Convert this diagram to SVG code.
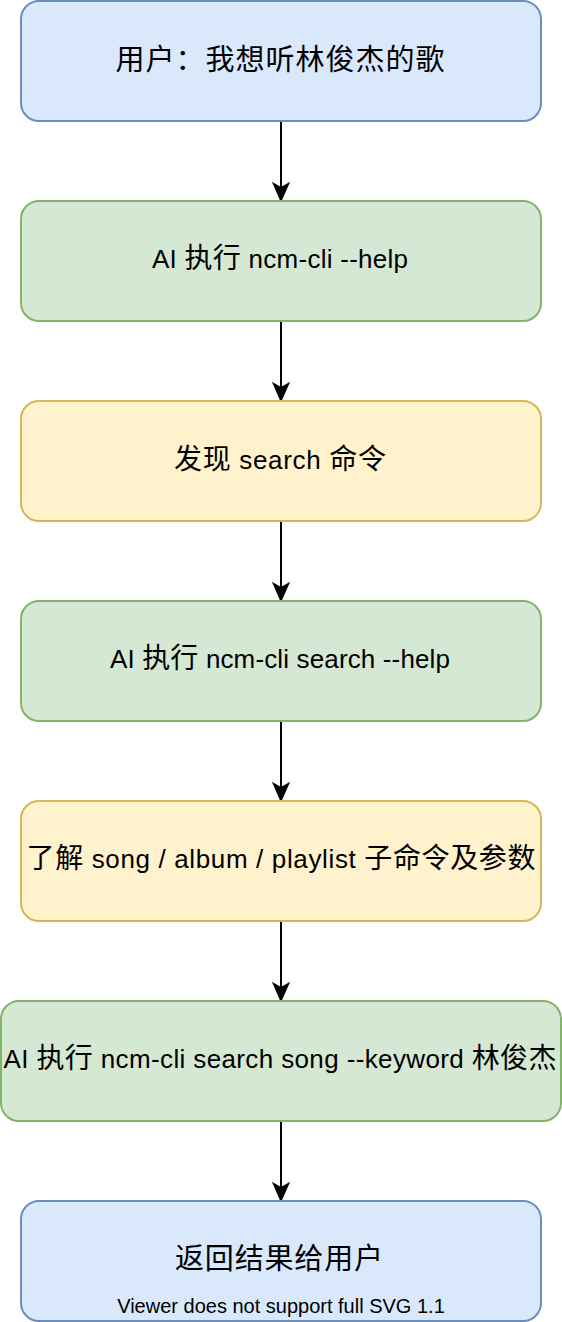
<svg xmlns="http://www.w3.org/2000/svg" width="562" height="1322" viewBox="0 0 562 1322">
<defs>
<style>
.blue{fill:#dae8fc;stroke:#6c8ebf;stroke-width:2}
.green{fill:#d5e8d4;stroke:#82b366;stroke-width:2}
.yellow{fill:#fff2cc;stroke:#d6b656;stroke-width:2}
.t{font-family:"Liberation Sans","Noto Sans CJK SC",sans-serif;font-size:26px;fill:#000;text-anchor:middle}
.c{font-size:28px}
.big{font-family:"Liberation Sans","Noto Sans CJK SC",sans-serif;font-size:29px;fill:#000;text-anchor:middle}
.small{font-family:"Liberation Sans","Noto Sans CJK SC",sans-serif;font-size:20px;fill:#000;text-anchor:middle}
.edge{stroke:#000;stroke-width:2;fill:none}
.head{fill:#000;stroke:#000;stroke-width:2;stroke-linejoin:miter}
</style>
</defs>
<rect width="562" height="1322" fill="#ffffff"/>
<g id="connectors">
<g id="e1"><path class="edge" d="M281 121V189"/><path class="head" d="M281 200L274 184L281 188L288 184Z"/></g>
<g id="e2"><path class="edge" d="M281 321V389"/><path class="head" d="M281 400L274 384L281 388L288 384Z"/></g>
<g id="e3"><path class="edge" d="M281 521V589"/><path class="head" d="M281 600L274 584L281 588L288 584Z"/></g>
<g id="e4"><path class="edge" d="M281 721V789"/><path class="head" d="M281 800L274 784L281 788L288 784Z"/></g>
<g id="e5"><path class="edge" d="M281 921V989"/><path class="head" d="M281 1000L274 984L281 988L288 984Z"/></g>
<g id="e6"><path class="edge" d="M281 1121V1189"/><path class="head" d="M281 1200L274 1184L281 1188L288 1184Z"/></g>
</g>
<g id="n1"><rect class="blue" x="21" y="1" width="520" height="120" rx="18"/><text class="big" x="280" y="70" textLength="329" lengthAdjust="spacing">用户：我想听林俊杰的歌</text></g>
<g id="n2"><rect class="green" x="21" y="201" width="520" height="120" rx="18"/><text class="t" x="280" y="268" textLength="256" lengthAdjust="spacing">AI <tspan class="c">执行</tspan> ncm-cli --help</text></g>
<g id="n3"><rect class="yellow" x="21" y="401" width="520" height="120" rx="18"/><text class="t" x="280" y="469" textLength="212" lengthAdjust="spacing"><tspan class="c">发现</tspan> search <tspan class="c">命令</tspan></text></g>
<g id="n4"><rect class="green" x="21" y="601" width="520" height="120" rx="18"/><text class="t" x="280" y="668" textLength="340" lengthAdjust="spacing">AI <tspan class="c">执行</tspan> ncm-cli search --help</text></g>
<g id="n5"><rect class="yellow" x="21" y="801" width="520" height="120" rx="18"/><text class="t" x="281" y="868" textLength="509" lengthAdjust="spacing"><tspan class="c">了解</tspan> song / album / playlist <tspan class="c">子命令及参数</tspan></text></g>
<g id="n6"><rect class="green" x="1" y="1001" width="560" height="120" rx="18"/><text class="t" x="280" y="1068" textLength="553" lengthAdjust="spacing">AI <tspan class="c">执行</tspan> ncm-cli search song --keyword <tspan class="c">林俊杰</tspan></text></g>
<g id="n7"><rect class="blue" x="21" y="1201" width="520" height="120" rx="18"/><text class="big" x="279" y="1269" textLength="208" lengthAdjust="spacing">返回结果给用户</text><text class="small" x="281" y="1313">Viewer does not support full SVG 1.1</text></g>
</svg>
